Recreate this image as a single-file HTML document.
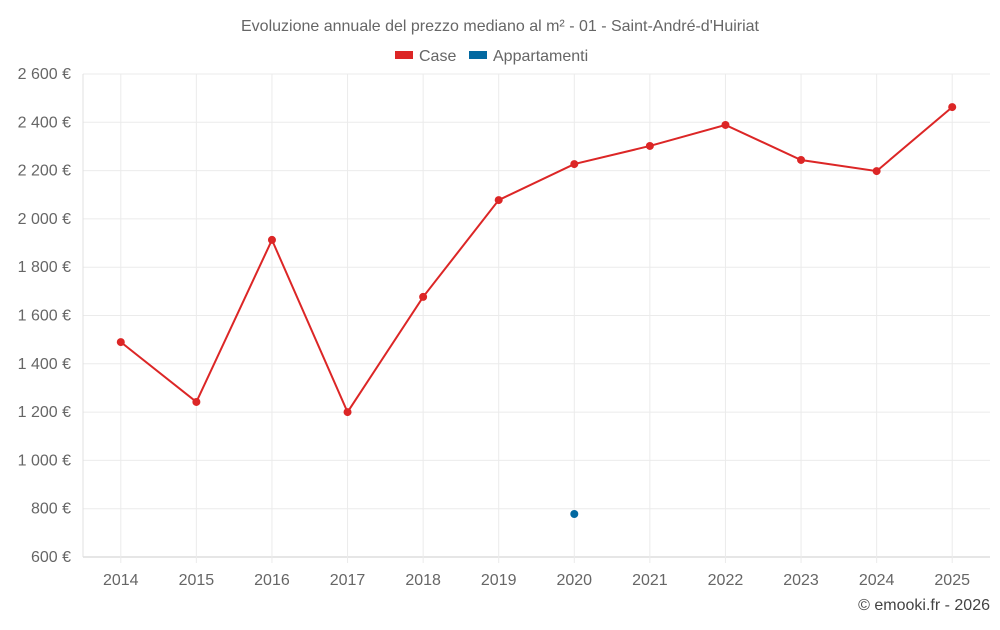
<!DOCTYPE html>
<html><head><meta charset="utf-8"><style>
body{margin:0;background:#fff;font-family:"Liberation Sans",sans-serif}
svg text{font-family:"Liberation Sans",sans-serif}
</style></head><body>
<svg id="chart" width="1000" height="625" xmlns="http://www.w3.org/2000/svg">
<text x="500" y="31" text-anchor="middle" font-size="16" fill="#666">Evoluzione annuale del prezzo mediano al m² - 01 - Saint-André-d'Huiriat</text>
<g>
<rect x="395" y="51" width="18" height="8" fill="#dc2626"/>
<text x="419" y="61" font-size="16" fill="#666">Case</text>
<rect x="469" y="51" width="18" height="8" fill="#0369a1"/>
<text x="493" y="61" font-size="16" fill="#666">Appartamenti</text>
</g>
<g id="grid"></g><g id="axes"></g><g id="series"></g>
<text x="990" y="610" text-anchor="end" font-size="16" fill="#444">© emooki.fr - 2026</text>
</svg>
<script>
const years=[2014,2015,2016,2017,2018,2019,2020,2021,2022,2023,2024,2025];
const caseValues=[1490,1242,1913,1200,1677,2078,2227,2302,2389,2244,2198,2463];
const apptValues=[null,null,null,null,null,null,778,null,null,null,null,null];
const yTicks=[600,800,1000,1200,1400,1600,1800,2000,2200,2400,2600];
const NS="http://www.w3.org/2000/svg";
const L=83,R=990,T=74,B=557,yMin=600,yMax=2600;
const xs=i=>L+(R-L)*(i+0.5)/years.length;
const ys=v=>B-(v-yMin)/(yMax-yMin)*(B-T);
function mk(t,a,p){const e=document.createElementNS(NS,t);for(const k in a)e.setAttribute(k,a[k]);p.appendChild(e);return e;}
const g=document.getElementById('grid'),ax=document.getElementById('axes'),s=document.getElementById('series');
yTicks.forEach(v=>{
 const ln=mk('line',{x1:L,x2:R,y1:ys(v),y2:ys(v),stroke:v===yMin?'#ccc':'#ebebeb'},g);
 
 
 const t=mk('text',{x:71,y:ys(v)+5,'text-anchor':'end','font-size':16,fill:'#666'},ax);
 t.textContent=v.toLocaleString('fr-FR').replace(/\u202f|\u00a0/g,' ')+' €';
 
 
});
const lb=mk('line',{x1:L,x2:L,y1:T,y2:B,stroke:'#e0e0e0'},g);


years.forEach((y,i)=>{
 const ln=mk('line',{x1:xs(i),x2:xs(i),y1:T,y2:B+6,stroke:'#ebebeb'},g);
 
 
 const t=mk('text',{x:xs(i),y:585,'text-anchor':'middle','font-size':16,fill:'#666'},ax);
 t.textContent=y;
 
 
});
const pts=caseValues.map((v,i)=>xs(i)+','+ys(v)).join(' ');
const pl=mk('polyline',{points:pts,fill:'none',stroke:'#dc2626','stroke-width':2},s);


caseValues.forEach((v,i)=>{
 const c=mk('circle',{cx:xs(i),cy:ys(v),r:4,fill:'#dc2626'},s);
 
 
});
apptValues.forEach((v,i)=>{
 if(v==null)return;
 const c=mk('circle',{cx:xs(i),cy:ys(v),r:4,fill:'#0369a1'},s);
 
 
});
</script>
</body></html>
